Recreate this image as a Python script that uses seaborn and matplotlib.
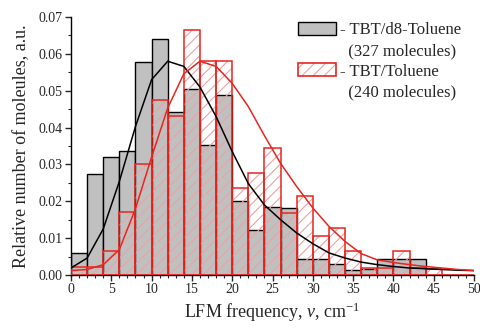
import numpy as np
import pandas as pd
import matplotlib
matplotlib.use("Agg")
import matplotlib.pyplot as plt
import seaborn as sns
from matplotlib.patches import Patch
from matplotlib.ticker import MultipleLocator, FormatStrFormatter

# ---- data ----
bin_edges = list(range(0, 52, 2))
bin_centers = [e + 1 for e in bin_edges[:-1]]
d8_toluene = [0.0061, 0.0275, 0.0321, 0.0336, 0.0579, 0.0641, 0.0442, 0.0505,
              0.0352, 0.0488, 0.0200, 0.0123, 0.0184, 0.0182, 0.0043, 0.0043,
              0.0030, 0.0014, 0.0015, 0.0044, 0.0044, 0.0044, 0.0, 0.0, 0.0]
toluene = [0.0021, 0.0021, 0.0064, 0.0172, 0.0302, 0.0476, 0.0431, 0.0665,
           0.0580, 0.0580, 0.0236, 0.0278, 0.0344, 0.0168, 0.0213, 0.0107,
           0.0127, 0.0064, 0.0018, 0.0018, 0.0064, 0.0018, 0.0017, 0.0, 0.0]

fit_x = list(range(0, 52, 2))
fit_d8 = [0.0019, 0.0046, 0.0125, 0.0254, 0.0403, 0.0530, 0.0580, 0.0566,
          0.0510, 0.0430, 0.0335, 0.0248, 0.0190, 0.0150, 0.0114, 0.0085,
          0.0060, 0.0046, 0.0035, 0.0028, 0.0023, 0.0019, 0.0017, 0.0015,
          0.0013, 0.0012]
fit_tol = [0.0012, 0.0015, 0.0028, 0.0069, 0.0180, 0.0320, 0.0453, 0.0546,
           0.0580, 0.0566, 0.0520, 0.0457, 0.0378, 0.0303, 0.0240, 0.0182,
           0.0132, 0.0091, 0.0058, 0.0041, 0.0034, 0.0028, 0.0023, 0.0019,
           0.0015, 0.0012]

label_d8 = "- TBT/d8-Toluene"
label_d8_n = "  (327 molecules)"
label_tol = "- TBT/Toluene"
label_tol_n = "  (240 molecules)"

hist_df = pd.DataFrame({"freq": bin_centers, "d8": d8_toluene, "tol": toluene})

# ---- style ----
sns.set_style("ticks")
plt.rcParams['font.family'] = ['Liberation Serif', 'DejaVu Serif']
plt.rcParams['mathtext.fontset'] = 'custom'
plt.rcParams['mathtext.rm'] = 'Liberation Serif'
plt.rcParams['mathtext.it'] = 'Liberation Serif:italic'
plt.rcParams['hatch.linewidth'] = 0.8

GRAY = '#c0c0c0'
RED = '#e8251f'
PINK = '#eba3a3'

fig = plt.figure(figsize=(4.81, 3.31), dpi=100)
ax = fig.add_axes([71 / 481, 1 - 275 / 331, (474 - 71) / 481, (275 - 17) / 331])

# gray bars
n0 = len(ax.patches)
sns.histplot(data=hist_df, x="freq", weights="d8", bins=bin_edges, ax=ax,
             color=GRAY, alpha=1.0)
for p in ax.patches[n0:]:
    p.set_facecolor(GRAY)
    p.set_edgecolor('black')
    p.set_linewidth(1.0)
    p.set_zorder(1)

# red hatch layer
n1 = len(ax.patches)
sns.histplot(data=hist_df, x="freq", weights="tol", bins=bin_edges, ax=ax,
             color=PINK, alpha=1.0)
for p in ax.patches[n1:]:
    p.set_facecolor('none')
    p.set_edgecolor(PINK)
    p.set_hatch('///')
    p.set_linewidth(0)
    p.set_zorder(2)

# red edges layer
n2 = len(ax.patches)
sns.histplot(data=hist_df, x="freq", weights="tol", bins=bin_edges, ax=ax,
             color=RED, alpha=1.0)
for p in ax.patches[n2:]:
    p.set_facecolor('none')
    p.set_edgecolor(RED)
    p.set_linewidth(1.1)
    p.set_zorder(3)

# fit curves
sns.lineplot(x=fit_x, y=fit_d8, ax=ax, color='black', linewidth=1.1, zorder=4)
sns.lineplot(x=fit_x, y=fit_tol, ax=ax, color=RED, linewidth=1.1, zorder=4)

ax.set_xlim(0, 50)
ax.set_ylim(0, 0.07)
ax.xaxis.set_major_locator(MultipleLocator(5))
ax.xaxis.set_minor_locator(MultipleLocator(1))
ax.yaxis.set_major_locator(MultipleLocator(0.01))
ax.yaxis.set_minor_locator(MultipleLocator(0.005))
ax.yaxis.set_major_formatter(FormatStrFormatter('%.2f'))
ax.tick_params(which='major', direction='out', length=4, width=1, labelsize=10, pad=2)
ax.tick_params(which='minor', direction='out', length=2, width=0.8)
for s in ['top', 'right']:
    ax.spines[s].set_visible(False)
for s in ['left', 'bottom']:
    ax.spines[s].set_linewidth(1.0)
    ax.spines[s].set_color('black')

ax.set_xlabel("LFM frequency, $\\nu$, cm$^{-1}$", fontsize=13, labelpad=3)
ax.set_ylabel("Relative number of moleules, a.u.", fontsize=13, labelpad=6)

# legend
h_d8 = Patch(facecolor=GRAY, edgecolor='black', linewidth=1.0)
h_tol = (Patch(facecolor='white', edgecolor=PINK, hatch='///', linewidth=0),
         Patch(facecolor='none', edgecolor=RED, linewidth=1.2))
blank = Patch(facecolor='none', edgecolor='none')
leg = ax.legend([h_d8, blank, h_tol, blank],
                [label_d8, label_d8_n, label_tol, label_tol_n],
                loc='upper left', bbox_to_anchor=(298 / 481, 1 - 22 / 331),
                bbox_transform=fig.transFigure, frameon=False, fontsize=12,
                handlelength=2.3, handleheight=0.85, handletextpad=0.2,
                labelspacing=0.25, borderpad=0, borderaxespad=0)

fig.savefig("out.png", dpi=100)
